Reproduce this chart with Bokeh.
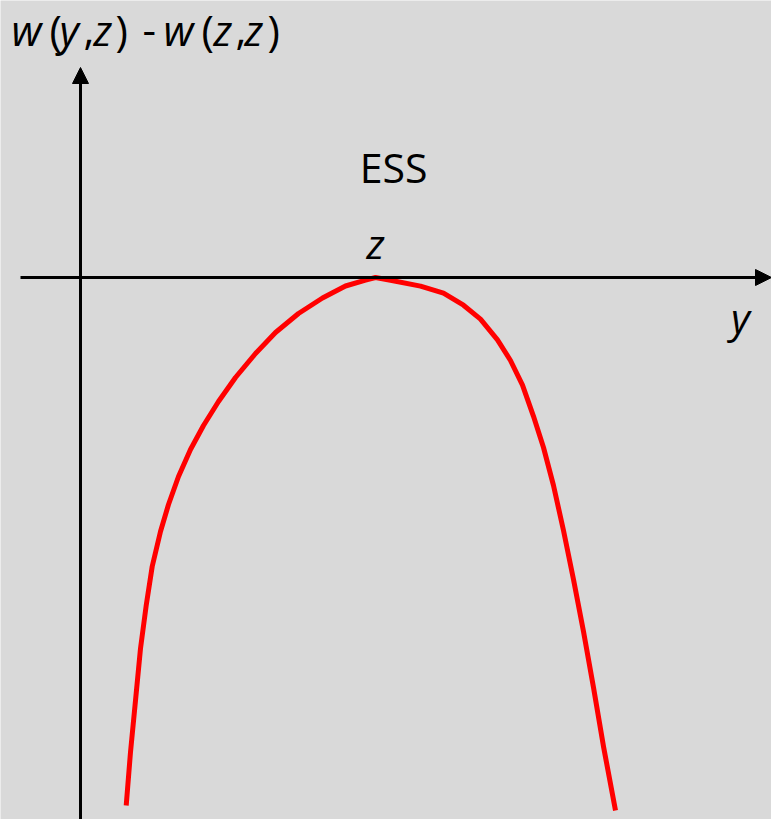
from bokeh.plotting import figure
from bokeh.models import Range1d, Arrow, NormalHead, Label, ColumnDataSource
from bokeh.core.properties import value
from bokeh.embed import file_html
from bokeh.resources import INLINE

# Fitness difference w(y,z) - w(z,z) of a mutant strategy y against resident z
trait_y = [0.457, 0.50, 0.55, 0.60, 0.657, 0.717, 0.80, 0.88, 0.98, 1.10,
           1.23, 1.38, 1.55, 1.75, 1.95, 2.18, 2.42, 2.65, 2.85, 2.95,
           3.10, 3.40, 3.63, 3.83, 4.00, 4.17, 4.30, 4.42, 4.53, 4.63,
           4.73, 4.83, 4.93, 5.03, 5.13, 5.23, 5.35]
payoff_diff = [-5.28, -4.746, -4.23, -3.71, -3.28, -2.89, -2.54, -2.27, -1.99,
               -1.72, -1.48, -1.24, -1.00, -0.76, -0.55, -0.36, -0.205, -0.085,
               -0.026, 0.0, -0.027, -0.086, -0.156, -0.277, -0.416, -0.624,
               -0.83, -1.076, -1.388, -1.70, -2.08, -2.53, -3.02, -3.54, -4.10,
               -4.69, -5.33]

# Axis title pieces: italic variables, upright punctuation
title_pieces = ["w", "(", "y", ",", "z", ")", "-", "w", "(", "z", ",", "z", ")"]
title_styles = ["italic", "normal", "italic", "normal", "italic", "normal",
                "normal", "italic", "normal", "italic", "normal", "italic",
                "normal"]
title_offsets = [0.11, 0.49, 0.59, 0.83, 0.93, 1.15, 1.42, 1.63, 2.01, 2.13,
                 2.35, 2.44, 2.67]

BG = "#d9d9d9"
FONT = "Open Sans"

p = figure(width=771, height=819, output_backend="svg", toolbar_location=None,
           x_range=Range1d(-0.80, 6.91), y_range=Range1d(-5.42, 2.77),
           min_border=0, background_fill_color=BG, border_fill_color=BG)
p.axis.visible = False
p.grid.visible = False
p.outline_line_color = None

# Coordinate axes drawn as arrows
p.add_layout(Arrow(x_start=0, y_start=-5.42, x_end=0, y_end=2.10,
                   line_color="black", line_width=3,
                   end=NormalHead(size=16, fill_color="black", line_color="black")))
p.add_layout(Arrow(x_start=-0.60, y_start=0, x_end=6.91, y_end=0,
                   line_color="black", line_width=3,
                   end=NormalHead(size=16, fill_color="black", line_color="black")))

src = ColumnDataSource(dict(y=trait_y, w=payoff_diff))
p.line("y", "w", source=src, line_color="#ff0000", line_width=5,
       line_join="round", line_cap="butt")

title_src = ColumnDataSource(dict(
    x=[o - 0.80 for o in title_offsets],
    y=[2.48] * len(title_pieces),
    text=title_pieces,
    style=title_styles,
))
p.text("x", "y", text="text", source=title_src, text_font=value(FONT),
       text_font_size="42px", text_font_style="style", text_color="black",
       text_align="left", text_baseline="alphabetic")


def put(text, x, y, italic=False, align="left", size="41px"):
    p.add_layout(Label(x=x, y=y, text=text, text_font=FONT, text_font_size=size,
                       text_font_style="italic" if italic else "normal",
                       text_color="black", text_align=align,
                       text_baseline="alphabetic"))


put("ESS", 3.13, 1.11, align="center")
put("z", 2.95, 0.35, italic=True, align="center")
put("y", 6.60, -0.39, italic=True, align="center")

open("out.html", "w").write(file_html(p, INLINE))
